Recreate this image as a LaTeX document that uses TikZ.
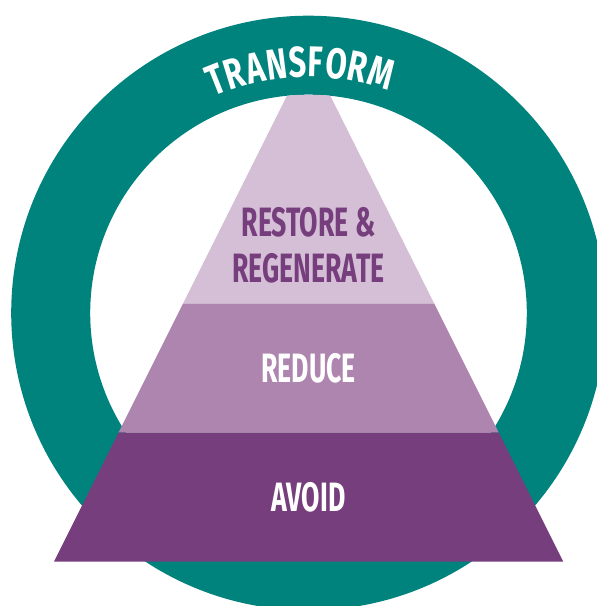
\documentclass[tikz,border=0pt]{standalone}
\usepackage{fontspec}
\usetikzlibrary{calc}
\newfontfamily\pyrfont[FakeStretch=0.65]{Fira Sans}
\newfontfamily\ringfont[FakeStretch=0.72]{Fira Sans}
\definecolor{ringteal}{RGB}{0,130,125}
\definecolor{lvlight}{RGB}{213,191,214}
\definecolor{lvmid}{RGB}{174,133,175}
\definecolor{lvdark}{RGB}{118,62,125}
\tikzset{
  lvtext/.style={anchor=base, inner sep=0pt, font=\pyrfont\bfseries\fontsize{41}{41}\selectfont},
  ringletter/.style={anchor=base, inner sep=0pt, text=white, rotate=#1-90,
    font=\ringfont\bfseries\fontsize{43}{43}\selectfont},
}
\begin{document}
\begin{tikzpicture}[x=1pt,y=1pt]
\useasboundingbox (0,0) rectangle (597,606);
\clip (0,0) rectangle (597,606);
% geometry
\coordinate (C) at (308.5,293);
\coordinate (apex) at (308.65,553.6);
\coordinate (tl) at (183.2,302.7);
\coordinate (tr) at (434.1,302.7);
\coordinate (ml) at (118.6,173.5);
\coordinate (mr) at (498.7,173.5);
\coordinate (bl) at (54,44.3);
\coordinate (br) at (563.3,44.3);
% ring
\fill[ringteal, even odd rule] (C) circle[radius=297.3pt] (C) circle[radius=218.3pt];
% pyramid
\fill[lvdark] (ml) -- (mr) -- (br) -- (bl) -- cycle;
\fill[lvmid] (tl) -- (tr) -- (mr) -- (ml) -- cycle;
\begin{scope}
  \clip (C) circle[radius=218.3pt];
  \fill[lvlight] (apex) -- (tr) -- (tl) -- cycle;
\end{scope}
% labels
\node[lvtext, text=lvdark] (rest1) at (308.5,369.4) {RESTORE \&};
\node[lvtext, text=lvdark] (rest2) at (308.5,323) {REGENERATE};
\node[lvtext, text=white] (reduce) at (308.5,223.5) {REDUCE};
\node[lvtext, text=white] (avoid) at (308.5,94) {AVOID};
% ring label, letter by letter along the arc
\foreach \ang/\ch/\nm in {111.58/T/t1, 107.10/R/t2, 102.33/A/t3, 97.24/N/t4, 92.45/S/t5,
                          88.31/F/t6, 83.63/O/t7, 78.62/R/t8, 73.09/M/t9}{
  \node[ringletter=\ang] (\nm) at ($(C)+(\ang:236pt)$) {\ch};
}
\end{tikzpicture}
\end{document}
